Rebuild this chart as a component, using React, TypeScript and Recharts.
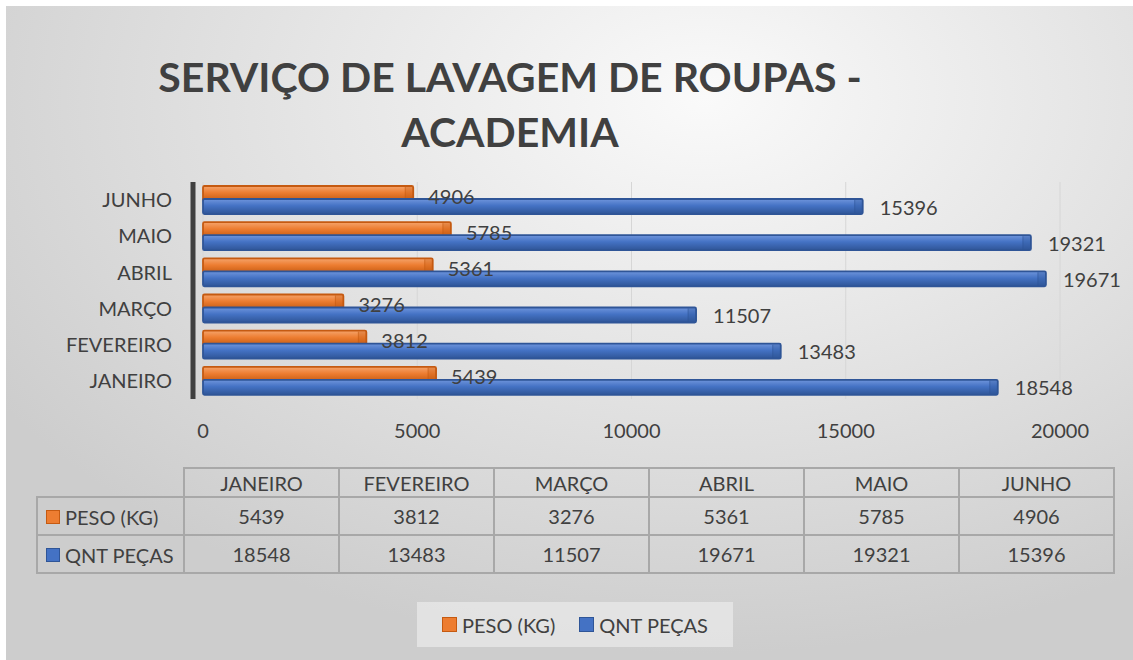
import { BarChart, Bar, XAxis, YAxis, CartesianGrid, Legend, LabelList } from "recharts";

const months = ["JANEIRO", "FEVEREIRO", "MARÇO", "ABRIL", "MAIO", "JUNHO"];
const pesoKg = [5439, 3812, 3276, 5361, 5785, 4906];
const qntPecas = [18548, 13483, 11507, 19671, 19321, 15396];
const xTicks = [0, 5000, 10000, 15000, 20000];

const series = [
  { key: "peso", name: "PESO (KG)", values: pesoKg, fill: "#ed7d31", light: "#f5a46c", dark: "#c55a11", labelOffset: 15, labelDy: 3 },
  { key: "pecas", name: "QNT PEÇAS", values: qntPecas, fill: "#4472c4", light: "#6f95dc", dark: "#2f5597", labelOffset: 17, labelDy: 1 },
];

const data = months.map((month, i) => ({ month, peso: pesoKg[i], pecas: qntPecas[i] }));

const FONT = "Lato, 'Open Sans', sans-serif";
const TEXT = "#404040";

// bar with a little "3d" look: gradient body, dark rim and an end cap
const make3DBar = (s: (typeof series)[number]) => (props: any) => {
  const { x, y, width, height } = props;
  if (!width || width <= 0) return <g />;
  const cap = Math.min(8, width);
  return (
    <g>
      <rect x={x} y={y} width={width} height={height} fill={`url(#grad-${s.key})`} stroke={s.dark} strokeWidth={1.8} rx={1.5} />
      <rect x={x + width - cap} y={y + 1} width={cap} height={height - 2} fill={s.dark} opacity={0.3} />
      <line x1={x + width - cap} y1={y + 1} x2={x + width - cap} y2={y + height - 1} stroke={s.dark} strokeWidth={1} opacity={0.6} />
    </g>
  );
};

const LegendContent = () => (
  <div
    style={{
      display: "flex",
      justifyContent: "center",
      alignItems: "center",
      height: "100%",
      background: "rgba(235,235,235,0.7)",
      fontFamily: FONT,
      fontSize: 20,
      color: TEXT,
      gap: 24,
    }}
  >
    {series.map((s) => (
      <span key={s.key} style={{ display: "flex", alignItems: "center" }}>
        <span style={{ width: 13, height: 13, background: s.fill, border: `1.5px solid ${s.dark}`, marginRight: 5 }} />
        {s.name}
      </span>
    ))}
  </div>
);

const colW = 155;
const cell: React.CSSProperties = {
  border: "2px solid #a8a8a8",
  textAlign: "center",
  padding: 0,
  fontFamily: FONT,
  fontSize: 20,
  color: TEXT,
  fontWeight: 400,
};

const DataTable = () => (
  <table
    style={{
      position: "absolute",
      left: 30,
      top: 461,
      borderCollapse: "collapse",
      tableLayout: "fixed",
      width: 147 + colW * months.length,
    }}
  >
    <colgroup>
      <col style={{ width: 147 }} />
      {months.map((m) => (
        <col key={m} style={{ width: colW }} />
      ))}
    </colgroup>
    <tbody>
      <tr style={{ height: 29 }}>
        <td style={{ ...cell, borderTop: "none", borderLeft: "none" }} />
        {months.map((m) => (
          <td key={m} style={cell}>{m}</td>
        ))}
      </tr>
      {series.map((s) => (
        <tr key={s.key} style={{ height: 38 }}>
          <td style={{ ...cell, textAlign: "left", paddingLeft: 8 }}>
            <span style={{ display: "inline-flex", alignItems: "center" }}>
              <span style={{ width: 12, height: 12, background: s.fill, border: `1.5px solid ${s.dark}`, marginRight: 5 }} />
              {s.name}
            </span>
          </td>
          {s.values.map((v, i) => (
            <td key={i} style={cell}>{v}</td>
          ))}
        </tr>
      ))}
    </tbody>
  </table>
);

export default function App() {
  return (
    <div
      style={{
        position: "absolute",
        left: 6,
        top: 6,
        width: 1127,
        height: 654,
        background: "radial-gradient(ellipse 75% 85% at 62% 14%, #fafafa 0%, #e6e6e6 45%, #cdcdcd 100%)",
        overflow: "hidden",
      }}
    >
      <div
        style={{
          position: "absolute",
          left: 0,
          width: 1008,
          top: 43,
          textAlign: "center",
          fontFamily: FONT,
          fontWeight: 700,
          fontSize: 41,
          lineHeight: "55px",
          color: TEXT,
        }}
      >
        SERVIÇO DE LAVAGEM DE ROUPAS -<br />ACADEMIA
      </div>
      <BarChart
        width={1127}
        height={654}
        data={data}
        layout="vertical"
        barSize={15}
        barGap={-2}
        margin={{ top: 176, right: 73, left: 37, bottom: 221 }}
        style={{ position: "absolute", left: 0, top: 0 }}
      >
        <defs>
          {series.map((s) => (
            <linearGradient key={s.key} id={`grad-${s.key}`} x1="0" y1="0" x2="0" y2="1">
              <stop offset="0%" stopColor={s.light} />
              <stop offset="45%" stopColor={s.fill} />
              <stop offset="100%" stopColor={s.dark} />
            </linearGradient>
          ))}
        </defs>
        <CartesianGrid horizontal={false} stroke="#d6d6d6" />
        <XAxis
          type="number"
          domain={[0, 20000]}
          ticks={xTicks}
          padding={{ left: 10, right: 0 }}
          axisLine={false}
          tickLine={false}
          tickMargin={19}
          height={40}
          tick={{ fontFamily: FONT, fontSize: 20, fill: TEXT }}
        />
        <YAxis
          type="category"
          dataKey="month"
          reversed
          width={150}
          axisLine={{ stroke: "#404040", strokeWidth: 5 }}
          tickLine={false}
          tickSize={0}
          tickMargin={21}
          tick={{ fontFamily: FONT, fontSize: 20, fill: TEXT }}
        />
        <Legend
          layout="horizontal"
          verticalAlign="middle"
          align="center"
          content={<LegendContent />}
          wrapperStyle={{ left: 411, top: 596, width: 316, height: 45 }}
        />
        {series.map((s) => (
          <Bar key={s.key} dataKey={s.key} name={s.name} fill={s.fill} shape={make3DBar(s)} isAnimationActive={false}>
            <LabelList
              dataKey={s.key}
              position="right"
              offset={s.labelOffset}
              dy={s.labelDy}
              style={{ fontFamily: FONT, fontSize: 20, fill: TEXT }}
            />
          </Bar>
        ))}
      </BarChart>
      <DataTable />
    </div>
  );
}
